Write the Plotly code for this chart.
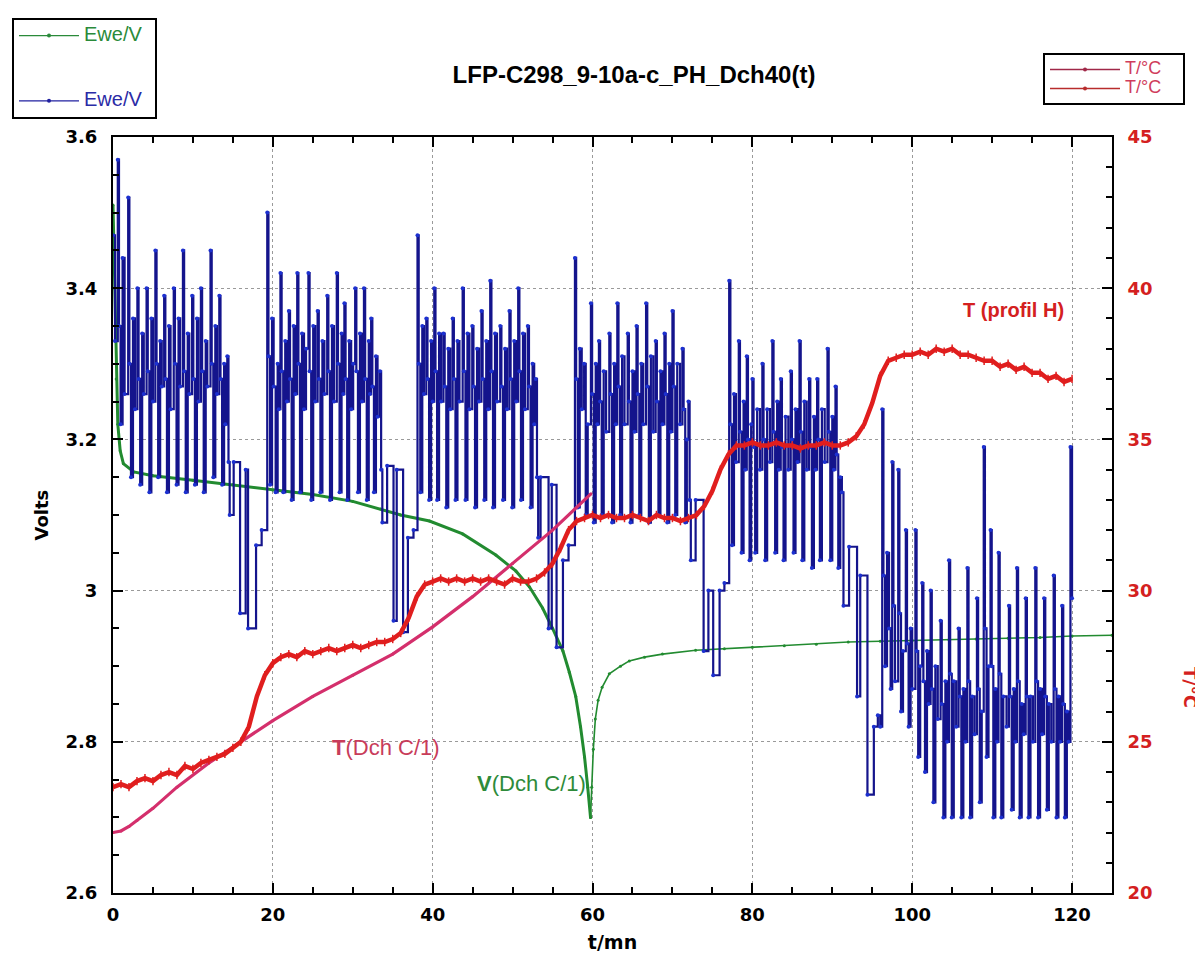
import plotly.graph_objects as go

# ---------------- data ----------------
# Blue Ewe/V (pulse profile H), step vertices (t/mn, V) per segment
blue_seg_a = [(0.0, 3.47), (0.25, 3.33), (0.6, 3.57), (0.75, 3.35), (0.95, 3.22), (1.2, 3.44), (1.45, 3.26),
              (1.9, 3.52), (2.05, 3.30), (2.25, 3.15), (2.5, 3.36), (2.75, 3.24),
              (3.05, 3.40), (3.2, 3.28), (3.4, 3.14), (3.65, 3.34), (3.85, 3.26),
              (4.2, 3.40), (4.35, 3.29), (4.55, 3.13), (4.8, 3.36), (5.0, 3.25),
              (5.3, 3.45), (5.45, 3.30), (5.65, 3.15), (5.9, 3.33), (6.1, 3.27),
              (6.4, 3.39), (6.55, 3.28), (6.75, 3.13), (7.0, 3.35), (7.2, 3.24),
              (7.6, 3.40), (7.75, 3.30), (7.95, 3.14), (8.2, 3.36), (8.4, 3.27),
              (8.75, 3.45), (8.9, 3.29), (9.1, 3.13), (9.35, 3.34), (9.55, 3.26),
              (9.9, 3.39), (10.05, 3.28), (10.25, 3.14), (10.5, 3.36), (10.7, 3.25),
              (11.0, 3.40), (11.15, 3.29), (11.35, 3.13), (11.6, 3.33), (11.8, 3.27),
              (12.2, 3.45), (12.35, 3.30), (12.55, 3.15), (12.8, 3.35), (13.0, 3.26),
              (13.3, 3.39), (13.45, 3.28), (13.65, 3.14), (13.9, 3.30), (14.05, 3.22),
              (14.3, 3.31), (14.45, 3.17), (14.6, 3.10), (15.1, 3.17), (15.9, 2.97), (16.6, 3.16),
              (16.9, 2.95), (17.9, 3.06), (18.6, 3.08)]
blue_seg_b = [(19.3, 3.50), (19.45, 3.31), (19.65, 3.14), (19.9, 3.36), (20.1, 3.27), (20.35, 3.13), (20.6, 3.30), (20.75, 3.24),
              (20.95, 3.42), (21.1, 3.29), (21.3, 3.13), (21.55, 3.33), (21.75, 3.25),
              (22.0, 3.37), (22.15, 3.28), (22.35, 3.12), (22.6, 3.35), (22.8, 3.26),
              (23.05, 3.42), (23.2, 3.30), (23.4, 3.13), (23.65, 3.34), (23.9, 3.24), (24.15, 3.32),
              (24.45, 3.42), (24.6, 3.29), (24.8, 3.12), (25.05, 3.35), (25.3, 3.25),
              (25.6, 3.37), (25.75, 3.28), (25.95, 3.13), (26.2, 3.33), (26.45, 3.26),
              (26.8, 3.39), (26.95, 3.29), (27.15, 3.12), (27.4, 3.35), (27.65, 3.25),
              (28.0, 3.42), (28.15, 3.30), (28.35, 3.13), (28.6, 3.34), (28.8, 3.26),
              (28.95, 3.38), (29.1, 3.28), (29.3, 3.12), (29.55, 3.33), (29.8, 3.24), (30.05, 3.30),
              (30.3, 3.40), (30.45, 3.29), (30.65, 3.13), (30.9, 3.34), (31.15, 3.25),
              (31.4, 3.40), (31.55, 3.28), (31.75, 3.12), (32.0, 3.33), (32.15, 3.26),
              (32.3, 3.36), (32.45, 3.27), (32.65, 3.13), (32.9, 3.31), (33.1, 3.23),
              (33.4, 3.29), (33.55, 3.16), (33.7, 3.09), (34.3, 3.165), (35.1, 2.96), (35.5, 3.16),
              (36.3, 2.945), (36.9, 3.07), (37.6, 3.08)]
blue_seg_c = [(38.1, 3.47), (38.25, 3.30), (38.45, 3.13), (38.7, 3.35), (38.9, 3.26),
              (39.2, 3.36), (39.35, 3.28), (39.55, 3.12), (39.8, 3.33), (40.0, 3.25),
              (40.2, 3.40), (40.35, 3.29), (40.55, 3.12), (40.8, 3.34), (41.05, 3.25),
              (41.35, 3.34), (41.5, 3.27), (41.7, 3.11), (41.95, 3.32), (42.2, 3.24),
              (42.5, 3.36), (42.65, 3.28), (42.85, 3.12), (43.1, 3.33), (43.35, 3.25),
              (43.75, 3.40), (43.9, 3.29), (44.1, 3.12), (44.35, 3.34), (44.6, 3.24),
              (44.95, 3.35), (45.1, 3.27), (45.3, 3.11), (45.55, 3.32), (45.8, 3.25),
              (46.1, 3.37), (46.25, 3.28), (46.45, 3.12), (46.7, 3.33), (46.95, 3.24),
              (47.2, 3.41), (47.35, 3.29), (47.55, 3.11), (47.8, 3.34), (48.05, 3.25),
              (48.45, 3.35), (48.6, 3.27), (48.8, 3.12), (49.05, 3.32), (49.3, 3.24),
              (49.6, 3.37), (49.75, 3.28), (49.95, 3.11), (50.2, 3.33), (50.45, 3.25),
              (50.7, 3.40), (50.85, 3.29), (51.05, 3.12), (51.3, 3.34), (51.55, 3.24),
              (51.9, 3.35), (52.05, 3.27), (52.25, 3.11), (52.5, 3.30), (52.7, 3.22),
              (52.9, 3.28), (53.05, 3.15), (53.2, 3.07), (53.5, 3.15), (54.5, 2.95), (54.9, 3.14),
              (55.5, 2.925), (56.3, 3.04), (57.0, 3.06)]
blue_seg_d = [(57.8, 3.44), (57.95, 3.28), (58.15, 3.11), (58.4, 3.32), (58.65, 3.24), (58.95, 3.30), (59.15, 3.10), (59.4, 3.22),
              (59.8, 3.38), (59.95, 3.26), (60.15, 3.09), (60.4, 3.30), (60.6, 3.22),
              (60.8, 3.33), (60.95, 3.25), (61.15, 3.10), (61.4, 3.29), (61.7, 3.21),
              (62.1, 3.34), (62.25, 3.26), (62.45, 3.09), (62.7, 3.30), (62.9, 3.22),
              (63.1, 3.38), (63.25, 3.27), (63.45, 3.10), (63.7, 3.31), (64.0, 3.22),
              (64.4, 3.34), (64.55, 3.25), (64.75, 3.09), (65.0, 3.29), (65.25, 3.21),
              (65.5, 3.35), (65.65, 3.26), (65.85, 3.10), (66.1, 3.30), (66.35, 3.22),
              (66.7, 3.38), (66.85, 3.27), (67.05, 3.09), (67.3, 3.31), (67.6, 3.21),
              (67.9, 3.33), (68.05, 3.25), (68.25, 3.10), (68.5, 3.29), (68.75, 3.22),
              (69.0, 3.34), (69.15, 3.26), (69.35, 3.09), (69.6, 3.30), (69.8, 3.21),
              (70.0, 3.37), (70.15, 3.27), (70.35, 3.10), (70.6, 3.30), (70.95, 3.22),
              (71.25, 3.32), (71.4, 3.24), (71.6, 3.09), (71.8, 3.20),
              (72.0, 3.25), (72.15, 3.12), (72.3, 3.04), (72.9, 3.12), (73.9, 2.92), (74.5, 3.00),
              (75.1, 2.888), (75.9, 3.00), (76.5, 3.01)]
blue_seg_e = [(77.1, 3.41), (77.25, 3.22), (77.45, 3.06), (77.7, 3.26), (77.95, 3.17),
              (78.3, 3.33), (78.45, 3.21), (78.65, 3.05), (78.9, 3.25), (79.1, 3.16),
              (79.3, 3.31), (79.45, 3.20), (79.65, 3.04), (79.85, 3.22),
              (80.0, 3.28), (80.15, 3.19), (80.35, 3.05), (80.6, 3.24), (80.95, 3.16),
              (81.25, 3.30), (81.4, 3.20), (81.6, 3.04), (81.85, 3.24), (82.2, 3.17),
              (82.5, 3.33), (82.65, 3.21), (82.85, 3.05), (83.1, 3.25), (83.3, 3.16),
              (83.55, 3.28), (83.7, 3.19), (83.9, 3.04), (84.15, 3.23), (84.5, 3.16),
              (84.8, 3.29), (84.95, 3.20), (85.15, 3.05), (85.4, 3.24), (85.65, 3.17),
              (85.9, 3.33), (86.05, 3.21), (86.25, 3.04), (86.5, 3.25), (86.8, 3.16),
              (87.1, 3.28), (87.25, 3.19), (87.45, 3.03), (87.7, 3.23), (87.9, 3.16),
              (88.1, 3.28), (88.25, 3.20), (88.45, 3.04), (88.7, 3.24), (89.05, 3.17),
              (89.4, 3.32), (89.55, 3.21), (89.75, 3.04), (90.0, 3.23), (90.2, 3.16),
              (90.4, 3.27), (90.55, 3.18), (90.75, 3.03), (91.0, 3.15),
              (91.2, 3.13), (91.4, 2.98), (92.1, 3.058), (93.1, 2.86), (93.5, 3.02), (94.4, 2.73),
              (95.2, 2.82), (95.7, 2.835), (96.0, 2.82)]
blue_seg_f = [(96.25, 3.24), (96.4, 3.02), (96.6, 2.90), (96.85, 3.05), (97.1, 2.95), (97.3, 2.87),
              (97.5, 3.17), (97.65, 2.98), (97.85, 2.88),
              (98.25, 3.16), (98.4, 2.97), (98.6, 2.84), (98.85, 2.92),
              (99.2, 3.08), (99.35, 2.93), (99.55, 2.82), (99.8, 2.95), (100.0, 2.87),
              (100.4, 3.08), (100.55, 2.92), (100.75, 2.78), (101.0, 2.90),
              (101.25, 3.01), (101.4, 2.88), (101.6, 2.76), (101.85, 2.92), (102.05, 2.85),
              (102.3, 3.00), (102.45, 2.87), (102.65, 2.72), (102.9, 2.90), (103.2, 2.83),
              (103.55, 2.96), (103.7, 2.85), (103.9, 2.70), (104.15, 2.88), (104.35, 2.80),
              (104.6, 3.04), (104.75, 2.89), (104.95, 2.70), (105.2, 2.88), (105.5, 2.82),
              (105.8, 2.95), (105.95, 2.86), (106.15, 2.70), (106.4, 2.87), (106.65, 2.80),
              (106.9, 3.03), (107.05, 2.88), (107.25, 2.70), (107.5, 2.86), (107.8, 2.81),
              (108.1, 2.99), (108.25, 2.87), (108.45, 2.72), (108.7, 2.84),
              (108.95, 3.19), (109.1, 2.95), (109.3, 2.78), (109.55, 2.90),
              (109.8, 3.08), (109.95, 2.90), (110.15, 2.70), (110.4, 2.87), (110.6, 2.80),
              (110.8, 3.05), (110.95, 2.89), (111.15, 2.70), (111.4, 2.86), (111.8, 2.82),
              (112.1, 2.98), (112.25, 2.86), (112.45, 2.71), (112.7, 2.87), (112.9, 2.80),
              (113.1, 3.03), (113.25, 2.88), (113.45, 2.70), (113.7, 2.85), (113.95, 2.81),
              (114.2, 2.99), (114.35, 2.86), (114.55, 2.70), (114.8, 2.86), (115.1, 2.80),
              (115.4, 3.03), (115.55, 2.88), (115.75, 2.70), (116.0, 2.87), (116.25, 2.81),
              (116.5, 2.99), (116.65, 2.86), (116.85, 2.71), (117.1, 2.85), (117.4, 2.80),
              (117.7, 3.02), (117.85, 2.87), (118.05, 2.70), (118.3, 2.86), (118.5, 2.80),
              (118.75, 2.98), (118.9, 2.85), (119.1, 2.70), (119.35, 2.84), (119.55, 2.80),
              (119.8, 3.19), (120.0, 2.99)]

# Green Ewe/V (continuous discharge C/1 then relaxation)
green_dch_t = [0, 0.2, 0.4, 0.6, 0.9, 1.3, 2.6, 5, 10, 15, 20, 25, 30, 33.5, 36, 39.6, 43.75, 47.9,
               50.4, 52.1, 53.75, 55, 56.3, 57.1, 57.9, 58.5, 59.0, 59.4, 59.75]
green_dch_v = [3.51, 3.40, 3.28, 3.22, 3.185, 3.168, 3.157, 3.152, 3.146, 3.140, 3.133, 3.127, 3.118,
               3.108, 3.100, 3.092, 3.075, 3.047, 3.026, 3.005, 2.977, 2.950, 2.920, 2.892, 2.860,
               2.82, 2.78, 2.74, 2.70]
green_rest_t = [59.75, 59.9, 60.1, 60.35, 60.7, 61.2, 62.1, 63.5, 64.6, 66.5, 68.75, 72.9, 76.5, 80,
                84, 88, 92, 96, 100, 104.6, 108, 112, 116, 120, 125]
green_rest_v = [2.70, 2.74, 2.79, 2.83, 2.855, 2.872, 2.89, 2.900, 2.907, 2.912, 2.916, 2.921, 2.923,
                2.925, 2.927, 2.929, 2.932, 2.933, 2.934, 2.935, 2.936, 2.937, 2.938, 2.940, 2.941]

# T(Dch C/1) temperature (°C)
pink_t = [0, 1, 2, 3, 5, 8, 12, 16, 20, 25, 30, 35, 40, 45, 50, 55, 59.8]
pink_T = [22.0, 22.05, 22.2, 22.4, 22.8, 23.5, 24.3, 25.0, 25.7, 26.5, 27.2, 27.9, 28.8, 29.8,
          30.9, 32.0, 33.2]

# T(profil H) temperature (°C), one reading per minute
red_t = list(range(0, 121))
red_T = [23.5, 23.6, 23.5, 23.7, 23.8, 23.7, 23.9, 24.0, 23.9, 24.2,
         24.1, 24.3, 24.4, 24.5, 24.6, 24.8, 25.0, 25.5, 26.5, 27.2,
         27.6, 27.8, 27.9, 27.8, 28.0, 27.9, 28.0, 28.1, 28.0, 28.1,
         28.2, 28.1, 28.2, 28.3, 28.3, 28.4, 28.6, 29.1, 29.8, 30.2,
         30.3, 30.4, 30.3, 30.4, 30.3, 30.4, 30.3, 30.4, 30.3, 30.2,
         30.4, 30.3, 30.3, 30.4, 30.6, 30.9, 31.4, 32.0, 32.3, 32.4,
         32.5, 32.4, 32.5, 32.4, 32.4, 32.5, 32.4, 32.3, 32.5, 32.4,
         32.4, 32.3, 32.4, 32.5, 32.8, 33.3, 34.0, 34.5, 34.8, 34.8,
         34.9, 34.8, 34.8, 34.9, 34.8, 34.8, 34.7, 34.8, 34.8, 34.9,
         34.8, 34.8, 34.9, 35.1, 35.5, 36.2, 37.1, 37.6, 37.7, 37.8,
         37.8, 37.9, 37.8, 38.0, 37.9, 38.0, 37.8, 37.8, 37.7, 37.6,
         37.6, 37.4, 37.5, 37.3, 37.4, 37.2, 37.2, 37.0, 37.1, 36.9,
         37.0]

x_ticks = [0, 20, 40, 60, 80, 100, 120]
title_text = "LFP-C298_9-10a-c_PH_Dch40(t)"

# ---------------- figure ----------------
# The page body adds an 8 px offset, so the figure is 1195x949 to fill the 1203x957 window.
W, H = 1195, 949
blue_pts = blue_seg_a + blue_seg_b + blue_seg_c + blue_seg_d + blue_seg_e + blue_seg_f
blue_t = [p[0] for p in blue_pts]
blue_v = [p[1] for p in blue_pts]

GREEN = "#228b30"
BLUE_LINE = "#14148c"
BLUE_MK = "#1c30d0"
PINK = "#d42f6c"
RED = "#e01e1e"
TICK_FONT = dict(family="DejaVu Sans", size=18, color="black", weight="bold")
NB = "\u00a0"

fig = go.Figure()

fig.add_trace(go.Scatter(x=green_dch_t, y=green_dch_v, mode="lines+markers", showlegend=False,
                         line=dict(color=GREEN, width=3), marker=dict(size=3, color=GREEN)))
fig.add_trace(go.Scatter(x=green_rest_t, y=green_rest_v, mode="lines+markers", showlegend=False,
                         line=dict(color=GREEN, width=1.6), marker=dict(size=3, color=GREEN)))
fig.add_trace(go.Scatter(x=blue_t, y=blue_v, mode="lines+markers", line_shape="hv", showlegend=False,
                         line=dict(color=BLUE_LINE, width=2.2), marker=dict(size=4, color=BLUE_MK)))
fig.add_trace(go.Scatter(x=pink_t, y=pink_T, mode="lines+markers", yaxis="y2", showlegend=False,
                         line=dict(color=PINK, width=3.2), marker=dict(size=3, color=PINK)))
fig.add_trace(go.Scatter(x=red_t, y=red_T, mode="lines+markers", yaxis="y2", showlegend=False,
                         line=dict(color=RED, width=4.5),
                         marker=dict(size=6, color=RED, symbol="line-ns-open",
                                     line=dict(width=1.5, color="#c81414"))))

# legend entries
legend_items = [
    ("legend", "g1", '<span style="color:#2a8a3a;font-size:20px">Ewe/V</span>' + NB * 2, "#2a8a3a", "y"),
    ("legend", "g2", '<span style="color:#2b2ba6;font-size:20px">Ewe/V</span>' + NB * 2, "#2020a0", "y"),
    ("legend2", "g3", '<span style="color:#d03c5c;font-size:18px">T/°C</span>' + NB * 5, "#a02848", "y2"),
    ("legend2", "g4", '<span style="color:#d03c5c;font-size:18px">T/°C</span>' + NB * 5, "#b82c2c", "y2"),
]
for lg, grp, name, col, ax in legend_items:
    fig.add_trace(go.Scatter(x=[None], y=[None], mode="lines+markers", name=name, yaxis=ax,
                             line=dict(color=col, width=1.3), marker=dict(size=4, color=col),
                             legend=lg, legendgroup=grp))

axis_common = dict(showline=True, linecolor="black", linewidth=2, ticks="inside",
                   tickcolor="black", tickwidth=2, zeroline=False, automargin=False)

fig.update_layout(
    width=W, height=H,
    margin=dict(l=105, r=91, t=129, b=64, autoexpand=False),
    paper_bgcolor="white", plot_bgcolor="white",
    title=dict(text=title_text, x=626 / W, xanchor="center", y=1 - 67 / H, yanchor="middle",
               font=dict(family="Liberation Sans", size=24, color="black", weight="bold")),
    xaxis=dict(range=[0, 125], tickvals=x_ticks, ticklen=10, mirror="ticks",
               showgrid=True, gridcolor="#9a9a9a", griddash="dot", gridwidth=1,
               minor=dict(dtick=5, tick0=0, ticks="inside", ticklen=6, tickcolor="black", showgrid=False),
               tickfont=TICK_FONT, ticklabelstandoff=4,
               title=dict(text="t/mn", standoff=12,
                          font=dict(family="DejaVu Sans", size=19, color="black", weight="bold")),
               **axis_common),
    yaxis=dict(range=[2.6, 3.6], dtick=0.2, tick0=2.6, ticklen=10, mirror=False,
               showgrid=True, gridcolor="#9a9a9a", griddash="dot", gridwidth=1,
               minor=dict(dtick=0.05, tick0=2.6, ticks="inside", ticklen=6, tickcolor="black", showgrid=False),
               tickfont=TICK_FONT, ticklabelstandoff=10,
               **axis_common),
    yaxis2=dict(range=[20, 45], dtick=5, tick0=20, ticklen=10, overlaying="y", side="right",
                showgrid=False,
                minor=dict(dtick=1, tick0=20, ticks="inside", ticklen=6, tickcolor="black", showgrid=False),
                tickfont=dict(family="DejaVu Sans", size=18, color="#d42020", weight="bold"),
                ticklabelstandoff=10, **axis_common),
    legend=dict(xref="container", yref="container", x=4 / W, y=1 - 10 / H,
                xanchor="left", yanchor="top", bgcolor="white", bordercolor="black", borderwidth=2,
                font=dict(family="Liberation Sans", size=14), tracegroupgap=44, traceorder="grouped",
                itemwidth=60),
    legend2=dict(xref="container", yref="container", x=1035 / W, y=1 - 45 / H,
                 xanchor="left", yanchor="top", bgcolor="white", bordercolor="black", borderwidth=2,
                 font=dict(family="Liberation Sans", size=12), tracegroupgap=0, traceorder="grouped",
                 itemwidth=70),
    showlegend=True,
)

ANN_FONT = "Liberation Sans"
fig.add_annotation(x=112.7, y=3.371, xref="x", yref="y", text="<b>T (profil H)</b>", showarrow=False,
                   font=dict(family=ANN_FONT, size=20, color="#d42020"))
fig.add_annotation(x=34.2, y=2.793, xref="x", yref="y", text="<b>T</b>(Dch C/1)", showarrow=False,
                   font=dict(family=ANN_FONT, size=22, color="#c83c5a"))
fig.add_annotation(x=52.4, y=2.745, xref="x", yref="y", text="<b>V</b>(Dch C/1)", showarrow=False,
                   font=dict(family=ANN_FONT, size=22, color="#2e8b3a"))
fig.add_annotation(x=(28 - 113) / 999, y=0.5, xref="paper", yref="paper",
                   text="<b>Volts</b>", textangle=-90, showarrow=False,
                   font=dict(family="DejaVu Sans", size=18, color="black"))
fig.add_annotation(x=(1203 - 113) / 999, y=(893 - 710) / 756, xref="paper", yref="paper",
                   text="<b>T/°C</b>", textangle=90, showarrow=False,
                   font=dict(family="DejaVu Sans", size=18, color="#d42020"))

fig.write_html("out.html")
